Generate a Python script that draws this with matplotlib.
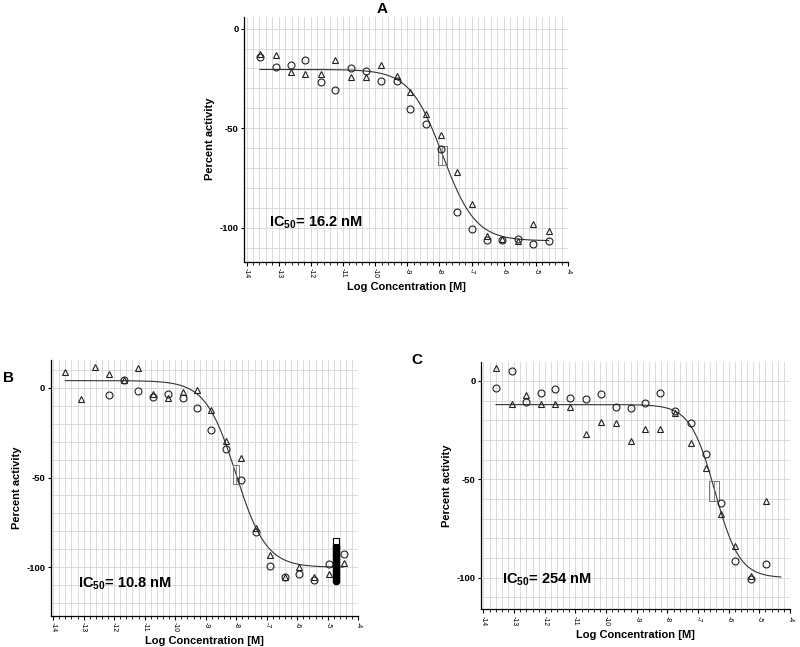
import numpy as np
import matplotlib
matplotlib.use("Agg")
import matplotlib.pyplot as plt
from matplotlib.ticker import MultipleLocator
from matplotlib.patches import Rectangle

plt.rcParams['font.family'] = ['Liberation Sans', 'DejaVu Sans']
plt.rcParams['mathtext.fontset'] = 'custom'
plt.rcParams['mathtext.rm'] = 'Liberation Sans'
plt.rcParams['mathtext.bf'] = 'Liberation Sans:bold'

# ---------------- Panel A data ----------------
a_x = [-13.58, -13.10, -12.63, -12.18, -11.69, -11.25, -10.75, -10.29, -9.82, -9.33,
       -8.91, -8.41, -7.95, -7.46, -6.99, -6.52, -6.06, -5.56, -5.09, -4.60]
a_circ = [-14.2, -19.2, -18.4, -15.9, -26.9, -30.6, -19.7, -21.2, -26.1, -26.1,
          -40.5, -47.7, -60.5, -92.1, -100.5, -106.2, -105.9, -105.5, -107.9, -106.5]
a_tri = [-12.5, -13.0, -21.7, -22.9, -22.9, -15.9, -24.2, -24.2, -18.4, -23.6,
         -31.8, -42.6, -53.3, -71.9, -88.1, -104.0, -105.7, -106.5, -98.3, -101.7]
a_fit = dict(top=-20.5, bottom=-106.5, logic50=-7.90, hill=0.85, xmin=-13.58, xmax=-4.60)
a_box = dict(x0=-8.06, x1=-7.78, y0=-68.6, y1=-59.0)
a_label = 'IC$_{\\mathbf{50}}$= 16.2 nM'

# ---------------- Panel B data ----------------
b_x_tri = [-13.60, -13.09, -12.63, -12.17, -11.68, -11.23, -10.72, -10.25, -9.76, -9.27,
           -8.84, -8.34, -7.86, -7.36, -6.90, -6.40, -5.93, -5.45, -4.96, -4.46]
b_tri = [8.9, -6.0, 11.7, 7.6, 4.3, 11.2, -3.2, -5.6, -2.2, -1.3,
         -12.5, -29.6, -39.1, -78.0, -92.9, -105.2, -99.6, -105.6, -103.7, -97.6]
b_x_circ = [-12.17, -11.68, -11.23, -10.72, -10.25, -9.76, -9.27, -8.84, -8.34,
            -7.86, -7.36, -6.90, -6.40, -5.93, -5.45, -4.96, -4.46]
b_circ = [-4.1, 4.3, -1.7, -5.0, -3.7, -5.4, -11.0, -23.3, -34.3,
          -51.2, -80.4, -99.4, -105.2, -103.7, -107.1, -98.1, -92.6]
b_fill_x = -4.73
b_fill = [-88, -89.5, -91, -92.5, -94, -95.5, -97, -98.5, -100, -101.5, -103, -104.5, -106, -107.5]
b_square = -85.6
b_fit = dict(top=4.0, bottom=-100.0, logic50=-8.01, hill=0.874, xmin=-13.60, xmax=-4.50)
b_box = dict(x0=-8.11, x1=-7.92, y0=-53.4, y1=-43.2)
b_label = 'IC$_{\\mathbf{50}}$= 10.8 nM'

# ---------------- Panel C data ----------------
c_x = [-13.59, -13.07, -12.60, -12.13, -11.65, -11.17, -10.64, -10.18, -9.68, -9.19,
       -8.73, -8.24, -7.75, -7.23, -6.75, -6.25, -5.78, -5.27, -4.79]
c_tri = [6.4, -11.7, -7.1, -11.7, -11.7, -13.3, -27.0, -20.6, -21.1, -30.7,
         -24.3, -24.5, -16.4, -31.6, -44.3, -67.4, -83.6, -99.2, -60.8]
c_circ = [-3.4, 5.1, -10.5, -5.9, -4.1, -8.4, -9.3, -6.6, -13.0, -13.5,
          -11.3, -6.3, -15.2, -21.1, -37.2, -62.0, -91.6, -100.8, -93.2]
c_fit = dict(top=-12.0, bottom=-100.0, logic50=-6.45, hill=1.08, xmin=-13.59, xmax=-4.30)
c_box = dict(x0=-6.63, x1=-6.30, y0=-61.0, y1=-51.0)
c_label = 'IC$_{\\mathbf{50}}$= 254 nM'

x_ticks = [-14, -13, -12, -11, -10, -9, -8, -7, -6, -5, -4]
y_ticks = [0, -50, -100]

W, H = 800, 647
fig = plt.figure(figsize=(W / 100, H / 100), dpi=100)


def px_axes(l, r, t, b):
    return fig.add_axes([l / W, 1 - b / H, (r - l) / W, (b - t) / H])


def style(ax, ylim, xlim=(-14.08, -4.0)):
    ax.set_xlim(*xlim)
    ax.set_ylim(*ylim)
    for s in ('top', 'right'):
        ax.spines[s].set_visible(False)
    for s in ('left', 'bottom'):
        ax.spines[s].set_linewidth(0.9)
        ax.spines[s].set_color('black')
    ax.set_xticks(x_ticks)
    ax.set_xticklabels([str(t) for t in x_ticks], rotation=-90, fontsize=5)
    ax.xaxis.set_minor_locator(MultipleLocator(0.2))
    ax.set_yticks(y_ticks)
    ax.set_yticklabels([str(t) for t in y_ticks], fontsize=6.8, fontweight='bold')
    ax.yaxis.set_minor_locator(MultipleLocator(10))
    ax.tick_params(axis='x', which='major', length=3, width=0.8, pad=1.5)
    ax.tick_params(axis='x', which='minor', length=1.8, width=0.6)
    ax.tick_params(axis='y', which='major', length=2.5, width=0.8, pad=1.5)
    ax.tick_params(axis='y', which='minor', length=0)
    ax.grid(True, which='both', color='#d6d6d6', linewidth=0.6)
    ax.set_axisbelow(True)
    ax.set_xlabel('Log Concentration [M]', fontsize=8, fontweight='bold', labelpad=3)
    ax.set_ylabel('Percent activity', fontsize=8, fontweight='bold', labelpad=3)


def draw_fit(ax, p, box):
    xs = np.linspace(p['xmin'], p['xmax'], 300)
    ys = p['bottom'] + (p['top'] - p['bottom']) / (1 + 10 ** ((xs - p['logic50']) * p['hill']))
    ax.plot(xs, ys, color='#333333', lw=0.8, zorder=3)
    ax.add_patch(Rectangle((box['x0'], box['y0']), box['x1'] - box['x0'], box['y1'] - box['y0'],
                           fill=False, edgecolor='#777777', lw=0.7, zorder=3))
    xm = (box['x0'] + box['x1']) / 2
    ax.plot([xm, xm], [box['y0'], box['y1']], color='#777777', lw=0.6, zorder=3)


mk = dict(linestyle='none', markerfacecolor='none', markeredgecolor='#222222',
          markeredgewidth=0.8, zorder=4)

# Panel A
axA = px_axes(244, 568, 16.7, 261.7)
style(axA, (-117, 6))
draw_fit(axA, a_fit, a_box)
axA.plot(a_x, a_tri, marker='^', markersize=5, **mk)
axA.plot(a_x, a_circ, marker='o', markersize=5, **mk)
axA.text(-13.3, -99, a_label, fontsize=10.5, fontweight='bold', va='baseline')
fig.text(382 / W, 1 - 9 / H, 'A', fontsize=11, fontweight='bold', ha='center', va='center')

# Panel B
axB = px_axes(50.7, 358.3, 360, 615.7)
style(axB, (-127, 15.5))
draw_fit(axB, b_fit, b_box)
axB.plot(b_x_tri, b_tri, marker='^', markersize=5, **mk)
axB.plot(b_x_circ, b_circ, marker='o', markersize=5, **mk)
axB.plot([b_fill_x] * len(b_fill), b_fill, linestyle='none', marker='o', markersize=4.5,
         color='black', zorder=5)
axB.plot([b_fill_x], [b_square], marker='s', markersize=4.5, linestyle='none',
         markerfacecolor='white', markeredgecolor='black', markeredgewidth=0.8, zorder=5)
axB.text(-13.18, -111, b_label, fontsize=10.5, fontweight='bold', va='baseline')
fig.text(8 / W, 1 - 378 / H, 'B', fontsize=11, fontweight='bold', ha='center', va='center')

# Panel C
axC = px_axes(481, 790, 361.7, 609.3)
style(axC, (-116, 9.8))
draw_fit(axC, c_fit, c_box)
axC.plot(c_x, c_tri, marker='^', markersize=5, **mk)
axC.plot(c_x, c_circ, marker='o', markersize=5, **mk)
axC.text(-13.39, -102.7, c_label, fontsize=10.5, fontweight='bold', va='baseline')
fig.text(417 / W, 1 - 360 / H, 'C', fontsize=11, fontweight='bold', ha='center', va='center')

fig.savefig('out.png', dpi=100, facecolor='white')
